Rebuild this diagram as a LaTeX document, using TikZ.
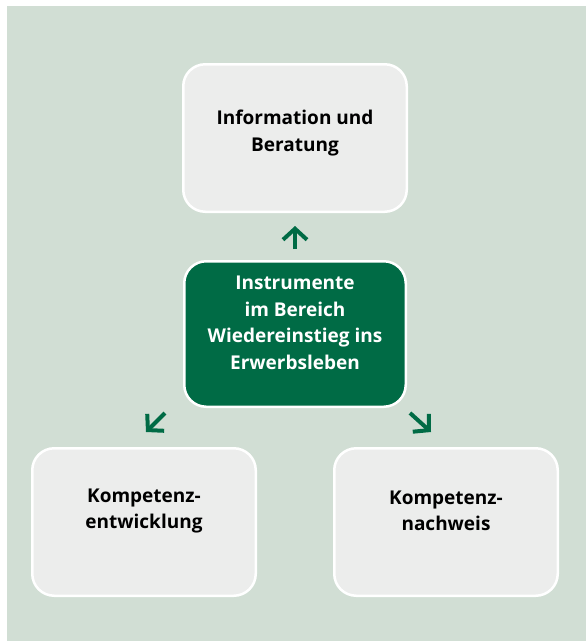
\documentclass[tikz,border=0pt]{standalone}
\usepackage{fontspec}
\setmainfont{Open Sans}
\usetikzlibrary{arrows.meta}
\definecolor{bggreen}{HTML}{D1DED4}
\definecolor{boxgray}{HTML}{ECEDEC}
\definecolor{darkgreen}{HTML}{006B45}
\tikzset{
  box/.style={draw=white, line width=2.5pt, fill=boxgray, rounded corners=22pt,
    minimum width=223.5pt, minimum height=147.5pt, inner sep=0pt},
  centerbox/.style={box, fill=darkgreen, minimum width=221.5pt, minimum height=145.5pt},
  txt/.style={align=center, font=\fontsize{19}{26.6}\selectfont\bfseries, text=black},
  wtxt/.style={txt, text=white},
  arr/.style={draw=darkgreen, line width=4pt, -{Straight Barb[length=11pt,width=24pt,line width=4pt]}}
}
\begin{document}
\begin{tikzpicture}[x=1pt,y=-1pt]
\useasboundingbox (0,0) rectangle (586,641);
\fill[white] (0,0) rectangle (586,641);
\fill[bggreen] (7,6) rectangle (586,641);

\node[box, label={[txt,yshift=5pt]center:Information und\\Beratung}] (t) at (295,138) {};
\node[centerbox, label={[wtxt,yshift=11pt]center:Instrumente\\im Bereich\\Wiedereinstieg ins\\Erwerbsleben}] (c) at (295,334) {};
\node[box, label={[txt,yshift=11pt]center:Kompetenz-\\entwicklung}] (bl) at (144,522) {};
\node[box, label={[txt,yshift=11pt]center:Kompetenz-\\nachweis}] (br) at (446,522) {};

\coordinate (a1s) at ([shift={(-18,5)}]c.south west);
\coordinate (a1e) at ([shift={(-37,24)}]c.south west);
\coordinate (a2s) at ([shift={(3,5)}]c.south east);
\coordinate (a2e) at ([shift={(24,24)}]c.south east);

\draw[arr, shorten <=11pt, shorten >=13pt] (c.north) -- (t.south);
\draw[arr] (a1s) -- (a1e);
\draw[arr] (a2s) -- (a2e);
\end{tikzpicture}
\end{document}
